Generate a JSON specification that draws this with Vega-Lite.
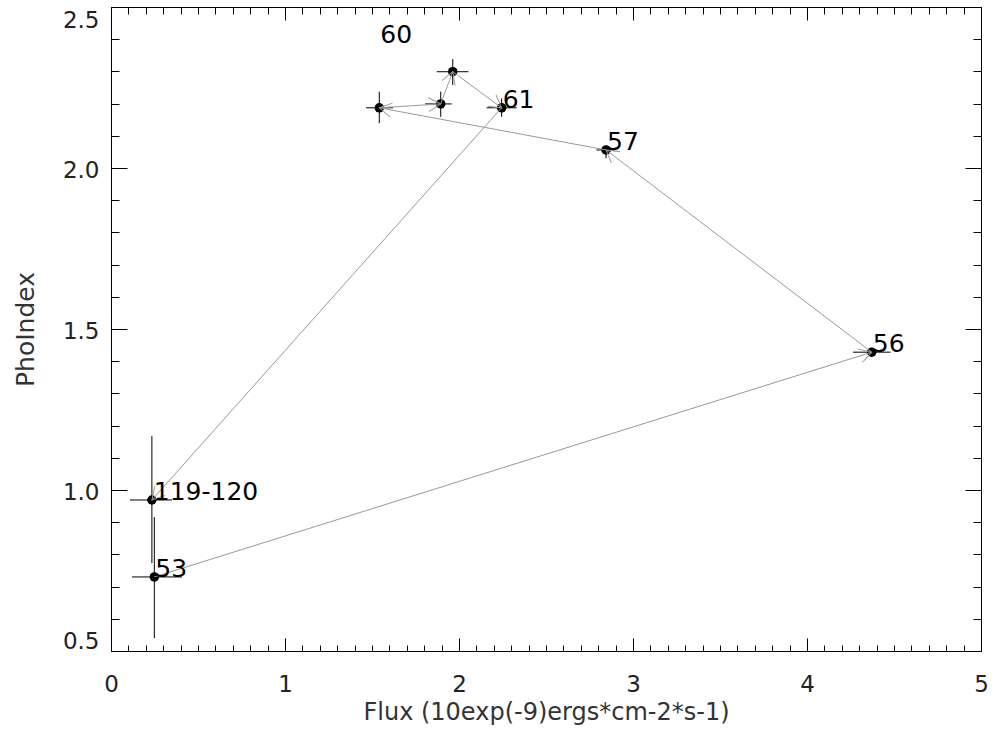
{
  "$schema": "https://vega.github.io/schema/vega-lite/v6.json",
  "width": 870,
  "height": 644,
  "autosize": {"type": "none"},
  "padding": {"left": 111, "top": 7, "right": 14, "bottom": 91},
  "background": "white",
  "datasets": {
    "pts": [
      {"id": "53", "seq": 1, "x": 0.249, "y": 0.730, "xlo": 0.121, "xhi": 0.408, "ylo": 0.540, "yhi": 0.916},
      {"id": "56", "seq": 2, "x": 4.372, "y": 1.428, "xlo": 4.264, "xhi": 4.480, "ylo": 1.415, "yhi": 1.441},
      {"id": "57", "seq": 3, "x": 2.845, "y": 2.056, "xlo": 2.790, "xhi": 2.900, "ylo": 2.030, "yhi": 2.070},
      {"id": "58", "seq": 4, "x": 1.542, "y": 2.187, "xlo": 1.466, "xhi": 1.621, "ylo": 2.139, "yhi": 2.237},
      {"id": "59", "seq": 5, "x": 1.895, "y": 2.199, "xlo": 1.805, "xhi": 1.958, "ylo": 2.159, "yhi": 2.237},
      {"id": "60", "seq": 6, "x": 1.964, "y": 2.299, "xlo": 1.872, "xhi": 2.054, "ylo": 2.258, "yhi": 2.338},
      {"id": "61", "seq": 7, "x": 2.245, "y": 2.187, "xlo": 2.159, "xhi": 2.332, "ylo": 2.159, "yhi": 2.216},
      {"id": "119-120", "seq": 8, "x": 0.235, "y": 0.969, "xlo": 0.109, "xhi": 0.351, "ylo": 0.773, "yhi": 1.168}
    ],
    "labels": [
      {"text": "53", "x": 0.249, "y": 0.730},
      {"text": "56", "x": 4.372, "y": 1.428},
      {"text": "57", "x": 2.845, "y": 2.056},
      {"text": "60", "x": 1.542, "y": 2.388},
      {"text": "61", "x": 2.245, "y": 2.187},
      {"text": "119-120", "x": 0.240, "y": 0.969}
    ]
  },
  "layer": [
    {
      "data": {"name": "pts"},
      "mark": {"type": "rule", "color": "black", "strokeWidth": 1},
      "encoding": {
        "x": {"field": "xlo", "type": "quantitative",
          "scale": {"domain": [0, 5], "nice": false, "zero": false},
          "axis": {"orient": "bottom", "values": [0, 1, 2, 3, 4, 5], "format": "d", "tickSize": -13, "labelPadding": 35,
            "title": "Flux (10exp(-9)ergs*cm-2*s-1)", "titleX": 435, "titleY": 68, "titleBaseline": "alphabetic", "titleAlign": "center", "titleFontSize": 24}},
        "x2": {"field": "xhi"},
        "y": {"field": "y", "type": "quantitative",
          "scale": {"domain": [0.5, 2.5], "nice": false, "zero": false},
          "axis": {"orient": "left", "values": [0.5, 1, 1.5, 2, 2.5], "format": ".1f", "tickSize": -16, "labelPadding": 28, "labelOffset": 2,
            "labelBaseline": {"condition": [{"test": "datum.value > 2.45", "value": "top"}, {"test": "datum.value < 0.55", "value": "bottom"}], "value": "middle"},
            "title": "PhoIndex", "titleX": -78, "titleY": 322, "titleAngle": 270, "titleBaseline": "alphabetic", "titleAlign": "center"}}
      }
    },
    {
      "data": {"name": "pts"},
      "mark": {"type": "rule", "color": "black", "strokeWidth": 1},
      "encoding": {
        "x": {"field": "x", "type": "quantitative",
          "scale": {"domain": [0, 5], "nice": false, "zero": false},
          "axis": {"orient": "bottom", "values": [0,0.1,0.2,0.3,0.4,0.5,0.6,0.7,0.8,0.9,1,1.1,1.2,1.3,1.4,1.5,1.6,1.7,1.8,1.9,2,2.1,2.2,2.3,2.4,2.5,2.6,2.7,2.8,2.9,3,3.1,3.2,3.3,3.4,3.5,3.6,3.7,3.8,3.9,4,4.1,4.2,4.3,4.4,4.5,4.6,4.7,4.8,4.9,5], "labels": false, "tickSize": -6, "title": null}},
        "y": {"field": "ylo", "type": "quantitative",
          "scale": {"domain": [0.5, 2.5], "nice": false, "zero": false},
          "axis": {"orient": "left", "values": [0.5,0.6,0.7,0.8,0.9,1,1.1,1.2,1.3,1.4,1.5,1.6,1.7,1.8,1.9,2,2.1,2.2,2.3,2.4,2.5], "labels": false, "tickSize": -8, "title": null}},
        "y2": {"field": "yhi"}
      }
    },
    {
      "data": {"name": "pts"},
      "mark": {"type": "point", "shape": "circle", "filled": true, "color": "black", "size": 90, "opacity": 1},
      "encoding": {
        "x": {"field": "x", "type": "quantitative",
          "scale": {"domain": [0, 5], "nice": false, "zero": false},
          "axis": {"orient": "top", "values": [0, 1, 2, 3, 4, 5], "labels": false, "tickSize": -13, "title": null}},
        "y": {"field": "y", "type": "quantitative",
          "scale": {"domain": [0.5, 2.5], "nice": false, "zero": false},
          "axis": {"orient": "right", "values": [0.5, 1, 1.5, 2, 2.5], "labels": false, "tickSize": -16, "title": null}}
      }
    },
    {
      "data": {"name": "pts"},
      "mark": {"type": "line", "color": "#999999", "strokeWidth": 1},
      "encoding": {
        "x": {"field": "x", "type": "quantitative",
          "scale": {"domain": [0, 5], "nice": false, "zero": false},
          "axis": {"orient": "top", "values": [0,0.1,0.2,0.3,0.4,0.5,0.6,0.7,0.8,0.9,1,1.1,1.2,1.3,1.4,1.5,1.6,1.7,1.8,1.9,2,2.1,2.2,2.3,2.4,2.5,2.6,2.7,2.8,2.9,3,3.1,3.2,3.3,3.4,3.5,3.6,3.7,3.8,3.9,4,4.1,4.2,4.3,4.4,4.5,4.6,4.7,4.8,4.9,5], "labels": false, "tickSize": -7, "title": null}},
        "y": {"field": "y", "type": "quantitative",
          "scale": {"domain": [0.5, 2.5], "nice": false, "zero": false},
          "axis": {"orient": "right", "values": [0.5,0.6,0.7,0.8,0.9,1,1.1,1.2,1.3,1.4,1.5,1.6,1.7,1.8,1.9,2,2.1,2.2,2.3,2.4,2.5], "labels": false, "tickSize": -8, "title": null}},
        "order": {"field": "seq", "type": "quantitative"}
      }
    },
    {
      "data": {"name": "pts"},
      "transform": [
        {"window": [{"op": "lag", "field": "x", "as": "px"}, {"op": "lag", "field": "y", "as": "py"}], "sort": [{"field": "seq"}]},
        {"filter": "datum.px != null"},
        {"calculate": "atan2((datum.x - datum.px) * 174, (datum.y - datum.py) * 322) * 180 / PI", "as": "ang"}
      ],
      "mark": {"type": "point", "shape": "M-0.5,0.866L0,0L0.5,0.866", "filled": false, "stroke": "#999999", "strokeWidth": 1, "size": 784, "opacity": 1},
      "encoding": {
        "x": {"field": "x", "type": "quantitative", "scale": {"domain": [0, 5], "nice": false, "zero": false}, "axis": null},
        "y": {"field": "y", "type": "quantitative", "scale": {"domain": [0.5, 2.5], "nice": false, "zero": false}, "axis": null},
        "angle": {"field": "ang", "type": "quantitative", "scale": null}
      }
    },
    {
      "data": {"name": "labels"},
      "mark": {"type": "text", "align": "left", "baseline": "alphabetic", "dx": 1, "font": "DejaVu Sans", "fontSize": 25, "color": "black"},
      "encoding": {
        "x": {"field": "x", "type": "quantitative", "scale": {"domain": [0, 5], "nice": false, "zero": false}, "axis": null},
        "y": {"field": "y", "type": "quantitative", "scale": {"domain": [0.5, 2.5], "nice": false, "zero": false}, "axis": null},
        "text": {"field": "text", "type": "nominal"}
      }
    }
  ],
  "resolve": {"axis": {"x": "independent", "y": "independent"}},
  "config": {
    "view": {"stroke": "black", "strokeWidth": 1},
    "axis": {
      "grid": false,
      "domainColor": "black",
      "tickColor": "black",
      "tickWidth": 1,
      "labelColor": "#222222",
      "titleColor": "#333333",
      "labelFont": "DejaVu Sans",
      "titleFont": "DejaVu Sans",
      "labelFontSize": 23,
      "titleFontSize": 25,
      "titleFontWeight": "normal",
      "labelFlush": false,
      "labelOverlap": false,
      "labelBound": false
    }
  }
}
